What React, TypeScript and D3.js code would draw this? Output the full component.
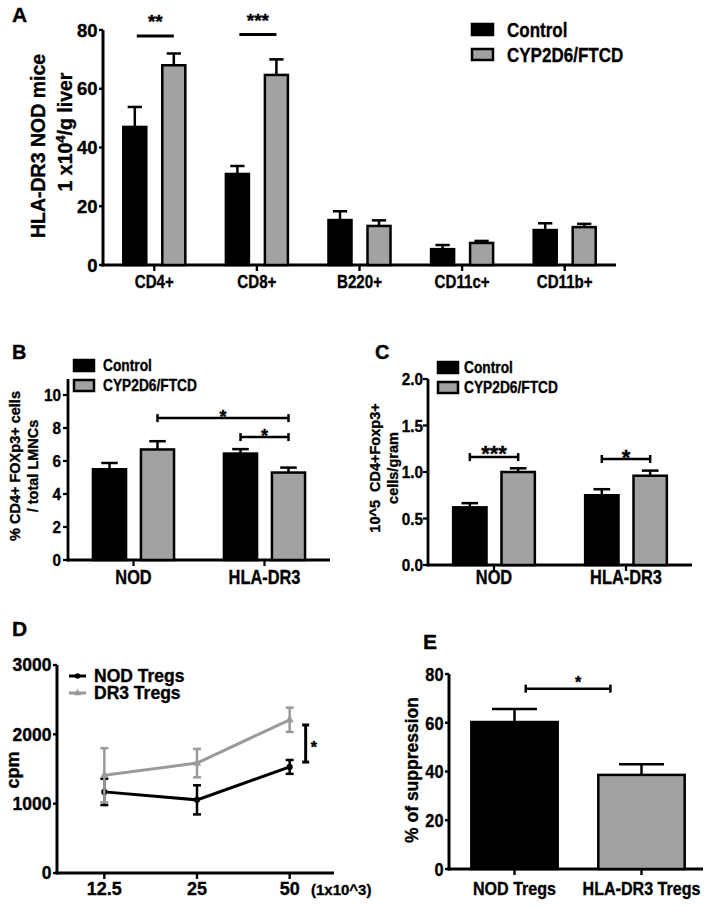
import React from 'react';
import * as d3 from 'd3';

const FONT = "'Liberation Sans', Arial, sans-serif";

// ---------- shared series ----------
const seriesNames = ['Control', 'CYP2D6/FTCD'];
const seriesColors = ['#000000', '#a2a2a4'];

// ---------- Panel A ----------
const aCategories = ['CD4+', 'CD8+', 'B220+', 'CD11c+', 'CD11b+'];
const aControl = [47, 31, 15.3, 5.4, 11.9];
const aControlErr = [6.8, 2.7, 3.0, 1.4, 2.3];
const aCyp = [68, 64.7, 13.3, 7.5, 12.9];
const aCypErr = [4, 5.3, 1.9, 0.7, 1.1];
const aTicks = [0, 20, 40, 60, 80];
const aSig = [
  { cat: 'CD4+', y: 78, label: '**' },
  { cat: 'CD8+', y: 78.5, label: '***' },
];

// ---------- Panel B ----------
const bCategories = ['NOD', 'HLA-DR3'];
const bControl = [5.5, 6.45];
const bControlErr = [0.38, 0.27];
const bCyp = [6.7, 5.3];
const bCypErr = [0.5, 0.3];
const bTicks = [0, 2, 4, 6, 8, 10];
const bSig = [
  { fromCat: 'NOD', fromS: 1, toCat: 'HLA-DR3', toS: 1, y: 8.6, label: '*' },
  { fromCat: 'HLA-DR3', fromS: 0, toCat: 'HLA-DR3', toS: 1, y: 7.45, label: '*' },
];

// ---------- Panel C ----------
const cCategories = ['NOD', 'HLA-DR3'];
const cControl = [0.62, 0.75];
const cControlErr = [0.045, 0.065];
const cCyp = [1.0, 0.96];
const cCypErr = [0.04, 0.055];
const cTicks = [0, 0.5, 1.0, 1.5, 2.0];
const cSig = [
  { fromCat: 'NOD', fromS: 0, toCat: 'NOD', toS: 1, y: 1.16, label: '***' },
  { fromCat: 'HLA-DR3', fromS: 0, toCat: 'HLA-DR3', toS: 1, y: 1.14, label: '*' },
];

// ---------- Panel D ----------
const dDoses = ['12.5', '25', '50'];
const dSeriesNames = ['NOD Tregs', 'DR3 Tregs'];
const dSeriesColors = ['#000000', '#9a9a9a'];
const dNod = [1170, 1055, 1530];
const dNodErr = [190, 210, 100];
const dDr3 = [1410, 1585, 2210];
const dDr3Err = [390, 205, 175];
const dTicks = [0, 1000, 2000, 3000];
const dSig = { lo: 1600, hi: 2135, label: '*' };

// ---------- Panel E ----------
const eCategories = ['NOD Tregs', 'HLA-DR3 Tregs'];
const eValues = [60.3, 38.6];
const eErr = [5.3, 4.4];
const eColors = ['#000000', '#a2a2a4'];
const eTicks = [0, 20, 40, 60, 80];
const eSig = { y: 74, label: '*' };

type Lin = d3.ScaleLinear<number, number>;
type Band = d3.ScaleBand<string>;

// text drawn horizontally condensed (reference uses a narrow bold face)
function NT({ x, y, fs, sx = 1, anchor = 'start', dy, children }: any) {
  return (
    <text transform={`translate(${x},${y}) scale(${sx},1)`} dy={dy} textAnchor={anchor} fontSize={fs} fontWeight="bold">
      {children}
    </text>
  );
}

function YAxis({ x, y, ticks, top, fmt, fs, sx = 1, tickLen, gap, sw }: any) {
  const y0 = y.range()[0];
  return (
    <g>
      <line x1={x} x2={x} y1={y0 + sw / 2} y2={top} stroke="#000" strokeWidth={sw} />
      {ticks.map((t: number) => (
        <g key={t}>
          <line x1={x - tickLen} x2={x} y1={y(t)} y2={y(t)} stroke="#000" strokeWidth={sw * 0.8} />
          <NT x={x - tickLen - gap} y={y(t)} dy="0.36em" anchor="end" fs={fs} sx={sx}>
            {fmt(t)}
          </NT>
        </g>
      ))}
    </g>
  );
}

function XAxis({ x0, x1, y, cats, pos, fs, sx = 1, tickLen, labelY, sw }: any) {
  return (
    <g>
      <line x1={x0 - sw / 2} x2={x1} y1={y} y2={y} stroke="#000" strokeWidth={sw} />
      {cats.map((c: string) => (
        <g key={c}>
          <line x1={pos(c)} x2={pos(c)} y1={y} y2={y + tickLen} stroke="#000" strokeWidth={sw * 0.8} />
          <NT x={pos(c)} y={labelY} anchor="middle" fs={fs} sx={sx}>
            {c}
          </NT>
        </g>
      ))}
    </g>
  );
}

function Bars({ cats, vals, errs, colors, x, sub, y, capFrac, sw }: any) {
  const bw = sub.bandwidth();
  return (
    <g>
      {cats.map((c: string, i: number) =>
        vals.map((vs: number[], s: number) => {
          const bx = x(c) + sub(String(s));
          const cx = bx + bw / 2;
          const v = vs[i];
          const e = errs[s][i];
          return (
            <g key={c + s}>
              <line x1={cx} x2={cx} y1={y(v)} y2={y(v + e)} stroke="#000" strokeWidth={sw} />
              <line x1={cx - (bw * capFrac) / 2} x2={cx + (bw * capFrac) / 2} y1={y(v + e)} y2={y(v + e)} stroke="#000" strokeWidth={sw} />
              <rect x={bx} y={y(v)} width={bw} height={y(0) - y(v)} fill={colors[s]} stroke="#000" strokeWidth={sw} />
            </g>
          );
        })
      )}
    </g>
  );
}

function Stars({ cx, lineY, label, fs, lift }: any) {
  return (
    <text x={cx} y={lineY - lift + 0.58 * fs} textAnchor="middle" fontSize={fs} fontWeight="bold">
      {label}
    </text>
  );
}

function BarLegend({ x, ys, w, h, fs, sx, tx }: any) {
  return (
    <g>
      {seriesNames.map((n, i) => (
        <g key={n}>
          <rect x={x} y={ys[i]} width={w} height={h} fill={seriesColors[i]} stroke="#000" strokeWidth={2.5} />
          <NT x={tx} y={ys[i] + h / 2} dy="0.36em" fs={fs} sx={sx}>
            {n}
          </NT>
        </g>
      ))}
    </g>
  );
}

function PanelA() {
  const y: Lin = d3.scaleLinear().domain([0, 80]).range([265, 30]);
  const x: Band = d3.scaleBand<string>().domain(aCategories).range([103, 616]).padding(0);
  const sub: Band = d3.scaleBand<string>().domain(['0', '1']).range([0, x.bandwidth()]).paddingInner(0.41).paddingOuter(0.52);
  const center = (c: string, s: number) => (x(c) as number) + (sub(String(s)) as number) + sub.bandwidth() / 2;
  return (
    <g>
      <text x={12} y={22} fontSize={21} fontWeight="bold">A</text>
      <YAxis x={103} y={y} ticks={aTicks} top={30} fmt={(t: number) => String(t)} fs={18.5} tickLen={4} gap={1.5} sw={3} />
      <XAxis x0={103} x1={616} y={265} cats={aCategories} pos={(c: string) => (x(c) as number) + x.bandwidth() / 2} fs={18} sx={0.84} tickLen={6} labelY={288} sw={3} />
      <Bars cats={aCategories} vals={[aControl, aCyp]} errs={[aControlErr, aCypErr]} colors={seriesColors} x={x} sub={sub} y={y} capFrac={0.62} sw={2.5} />
      {aSig.map((s) => {
        const x1 = center(s.cat, 0) + 2;
        const x2 = center(s.cat, 1);
        return (
          <g key={s.cat}>
            <line x1={x1} x2={x2} y1={y(s.y)} y2={y(s.y)} stroke="#000" strokeWidth={3} />
            <Stars cx={(x1 + x2) / 2} lineY={y(s.y)} label={s.label} fs={19} lift={18.5} />
          </g>
        );
      })}
      <BarLegend x={472} ys={[24, 49]} w={21} h={11} fs={20.5} sx={0.83} tx={507} />
      <text transform="translate(45,146) rotate(-90)" textAnchor="middle" fontSize={19.5} fontWeight="bold">HLA-DR3 NOD mice</text>
      <text transform="translate(72,132) rotate(-90)" textAnchor="middle" fontSize={19.5} fontWeight="bold">
        1 x10<tspan fontSize={13} dy={-7}>4</tspan><tspan dy={7}>/g liver</tspan>
      </text>
    </g>
  );
}

function PanelBC({ letter, letterX, cats, ctrl, ctrlErr, cyp, cypErr, ticks, sig, domain, yRange, axisTop, xRange, fmt, labelLines, labelXs, labelY, legendX, legendTx, legendYs, starFs, starLift, tickLabelRight }: any) {
  const y: Lin = d3.scaleLinear().domain(domain).range(yRange);
  const x: Band = d3.scaleBand<string>().domain(cats).range(xRange).padding(0);
  const sub: Band = d3.scaleBand<string>().domain(['0', '1']).range([0, x.bandwidth()]).paddingInner(0.31).paddingOuter(0.52);
  const center = (c: string, s: number) => (x(c) as number) + (sub(String(s)) as number) + sub.bandwidth() / 2;
  const ax = xRange[0];
  return (
    <g>
      <text x={letterX} y={359} fontSize={20} fontWeight="bold">{letter}</text>
      <YAxis x={ax} y={y} ticks={ticks} top={axisTop} fmt={fmt} fs={17} sx={0.9} tickLen={5} gap={ax - 5 - tickLabelRight} sw={2.8} />
      <XAxis x0={ax} x1={xRange[1]} y={yRange[0]} cats={cats} pos={(c: string) => (x(c) as number) + x.bandwidth() / 2} fs={19.5} sx={0.84} tickLen={6} labelY={584} sw={2.8} />
      <Bars cats={cats} vals={[ctrl, cyp]} errs={[ctrlErr, cypErr]} colors={seriesColors} x={x} sub={sub} y={y} capFrac={0.5} sw={2.5} />
      {sig.map((s: any, i: number) => {
        const x1 = center(s.fromCat, s.fromS);
        const x2 = center(s.toCat, s.toS);
        const ly = y(s.y);
        return (
          <g key={i}>
            <line x1={x1} x2={x2} y1={ly} y2={ly} stroke="#000" strokeWidth={2.5} />
            <line x1={x1} x2={x1} y1={ly - 4} y2={ly + 4} stroke="#000" strokeWidth={2.5} />
            <line x1={x2} x2={x2} y1={ly - 4} y2={ly + 4} stroke="#000" strokeWidth={2.5} />
            <Stars cx={(x1 + x2) / 2} lineY={ly} label={s.label} fs={starFs[i]} lift={starLift[i]} />
          </g>
        );
      })}
      <BarLegend x={legendX} ys={legendYs} w={20} h={11} fs={16} sx={0.86} tx={legendTx} />
      {labelLines.map((l: string, i: number) => (
        <text key={i} transform={`translate(${labelXs[i]},${labelY}) rotate(-90)`} textAnchor="middle" fontSize={14.5} fontWeight="bold" style={{ whiteSpace: 'pre' }}>
          {l}
        </text>
      ))}
    </g>
  );
}

function PanelD() {
  const y: Lin = d3.scaleLinear().domain([0, 3000]).range([873, 665]);
  const x = d3.scalePoint<string>().domain(dDoses).range([58, 336]).padding(0.5);
  const series = [
    { vals: dNod, errs: dNodErr, color: dSeriesColors[0], sym: d3.symbolCircle },
    { vals: dDr3, errs: dDr3Err, color: dSeriesColors[1], sym: d3.symbolTriangle },
  ];
  const line = d3.line<number>().x((_, i) => x(dDoses[i]) as number).y((v) => y(v));
  const sx = (x(dDoses[2]) as number) + 16;
  return (
    <g>
      <text x={12} y={636} fontSize={21} fontWeight="bold">D</text>
      <YAxis x={57} y={y} ticks={dTicks} top={665} fmt={(t: number) => String(t)} fs={17.5} tickLen={4} gap={1.5} sw={3} />
      <XAxis x0={57} x1={334} y={873} cats={dDoses} pos={(c: string) => x(c)} fs={18} tickLen={6} labelY={895} sw={3} />
      <text x={311} y={895} fontSize={15} fontWeight="bold">(1x10^3)</text>
      {series.map((s, k) => (
        <g key={k}>
          {s.vals.map((v, i) => {
            const cx = x(dDoses[i]) as number;
            return (
              <g key={i}>
                <line x1={cx} x2={cx} y1={y(v - s.errs[i])} y2={y(v + s.errs[i])} stroke={s.color} strokeWidth={2.5} />
                <line x1={cx - 4} x2={cx + 4} y1={y(v - s.errs[i])} y2={y(v - s.errs[i])} stroke={s.color} strokeWidth={2.5} />
                <line x1={cx - 4} x2={cx + 4} y1={y(v + s.errs[i])} y2={y(v + s.errs[i])} stroke={s.color} strokeWidth={2.5} />
              </g>
            );
          })}
          <path d={line(s.vals) as string} fill="none" stroke={s.color} strokeWidth={3} />
          {s.vals.map((v, i) => (
            <path key={i} transform={`translate(${x(dDoses[i])},${y(v)})`} d={d3.symbol().type(s.sym).size(30)() as string} fill={s.color} />
          ))}
        </g>
      ))}
      <line x1={sx} x2={sx} y1={y(dSig.lo)} y2={y(dSig.hi)} stroke="#000" strokeWidth={3} />
      <line x1={sx - 3.5} x2={sx + 3.5} y1={y(dSig.lo)} y2={y(dSig.lo)} stroke="#000" strokeWidth={3} />
      <line x1={sx - 3.5} x2={sx + 3.5} y1={y(dSig.hi)} y2={y(dSig.hi)} stroke="#000" strokeWidth={3} />
      <text x={sx + 5} y={(y(dSig.lo) + y(dSig.hi)) / 2 + 9} fontSize={16} fontWeight="bold">{dSig.label}</text>
      {dSeriesNames.map((n, i) => {
        const ly = 676 + i * 17;
        return (
          <g key={n}>
            <line x1={69} x2={86} y1={ly} y2={ly} stroke={dSeriesColors[i]} strokeWidth={3} />
            <path transform={`translate(77.5,${ly})`} d={d3.symbol().type(i === 0 ? d3.symbolCircle : d3.symbolTriangle).size(24)() as string} fill={dSeriesColors[i]} />
            <text x={94} y={ly} dy="0.36em" fontSize={17.5} fontWeight="bold">{n}</text>
          </g>
        );
      })}
      <text transform="translate(19,770) rotate(-90)" textAnchor="middle" fontSize={18} fontWeight="bold">cpm</text>
    </g>
  );
}

function PanelE() {
  const y: Lin = d3.scaleLinear().domain([0, 80]).range([869, 674]);
  const x: Band = d3.scaleBand<string>().domain(eCategories).range([451, 705]).paddingInner(0.32).paddingOuter(0.16);
  const bw = x.bandwidth();
  const cx = (c: string) => (x(c) as number) + bw / 2;
  const x1 = cx(eCategories[0]) + bw * 0.13;
  const x2 = cx(eCategories[1]) - bw * 0.36;
  const ly = y(eSig.y);
  return (
    <g>
      <text x={423} y={649} fontSize={21} fontWeight="bold">E</text>
      <YAxis x={449} y={y} ticks={eTicks} top={674} fmt={(t: number) => String(t)} fs={19} sx={0.86} tickLen={4} gap={1.5} sw={3} />
      <XAxis x0={449} x1={703} y={869} cats={eCategories} pos={cx} fs={18.5} sx={0.87} tickLen={6} labelY={895} sw={3} />
      {eCategories.map((c, i) => {
        const v = eValues[i];
        const e = eErr[i];
        const m = cx(c);
        return (
          <g key={c}>
            <line x1={m} x2={m} y1={y(v)} y2={y(v + e)} stroke="#000" strokeWidth={2.5} />
            <line x1={m - bw * 0.26} x2={m + bw * 0.26} y1={y(v + e)} y2={y(v + e)} stroke="#000" strokeWidth={2.5} />
            <rect x={x(c)} y={y(v)} width={bw} height={y(0) - y(v)} fill={eColors[i]} stroke="#000" strokeWidth={2.5} />
          </g>
        );
      })}
      <line x1={x1} x2={x2} y1={ly} y2={ly} stroke="#000" strokeWidth={2.5} />
      <line x1={x1} x2={x1} y1={ly - 4} y2={ly + 4} stroke="#000" strokeWidth={2.5} />
      <line x1={x2} x2={x2} y1={ly - 4} y2={ly + 4} stroke="#000" strokeWidth={2.5} />
      <Stars cx={(x1 + x2) / 2 + 10} lineY={ly} label={eSig.label} fs={16} lift={10} />
      <text transform="translate(418,770) rotate(-90)" textAnchor="middle" fontSize={17.5} fontWeight="bold">% of suppression</text>
    </g>
  );
}

export default function App() {
  return (
    <svg width={714} height={907} style={{ position: 'absolute', left: 0, top: 0 }} fontFamily={FONT}>
      <style>{`text { stroke: #000; stroke-width: 0.35px; }`}</style>
      <rect width={714} height={907} fill="#fff" />
      <PanelA />
      <PanelBC
        letter="B" letterX={12} cats={bCategories} ctrl={bControl} ctrlErr={bControlErr} cyp={bCyp} cypErr={bCypErr}
        ticks={bTicks} sig={bSig} domain={[0, 10]} yRange={[560, 395]} axisTop={379} xRange={[68, 330]}
        fmt={(t: number) => String(t)} labelLines={['% CD4+ FOXp3+ cells', '/ total LMNCs']} labelXs={[20, 38]} labelY={466}
        legendX={74} legendTx={103} legendYs={[360, 380]} starFs={[18, 18]} starLift={[6, 6]} tickLabelRight={61}
      />
      <PanelBC
        letter="C" letterX={375} cats={cCategories} ctrl={cControl} ctrlErr={cControlErr} cyp={cCyp} cypErr={cCypErr}
        ticks={cTicks} sig={cSig} domain={[0, 2]} yRange={[565, 379]} axisTop={379} xRange={[428, 692]}
        fmt={d3.format('.1f')} labelLines={['10^5  CD4+Foxp3+', 'cells/gram']} labelXs={[380, 398]} labelY={468}
        legendX={438} legendTx={464} legendYs={[362, 382]} starFs={[22, 22]} starLift={[9, 7]} tickLabelRight={423}
      />
      <PanelD />
      <PanelE />
    </svg>
  );
}
